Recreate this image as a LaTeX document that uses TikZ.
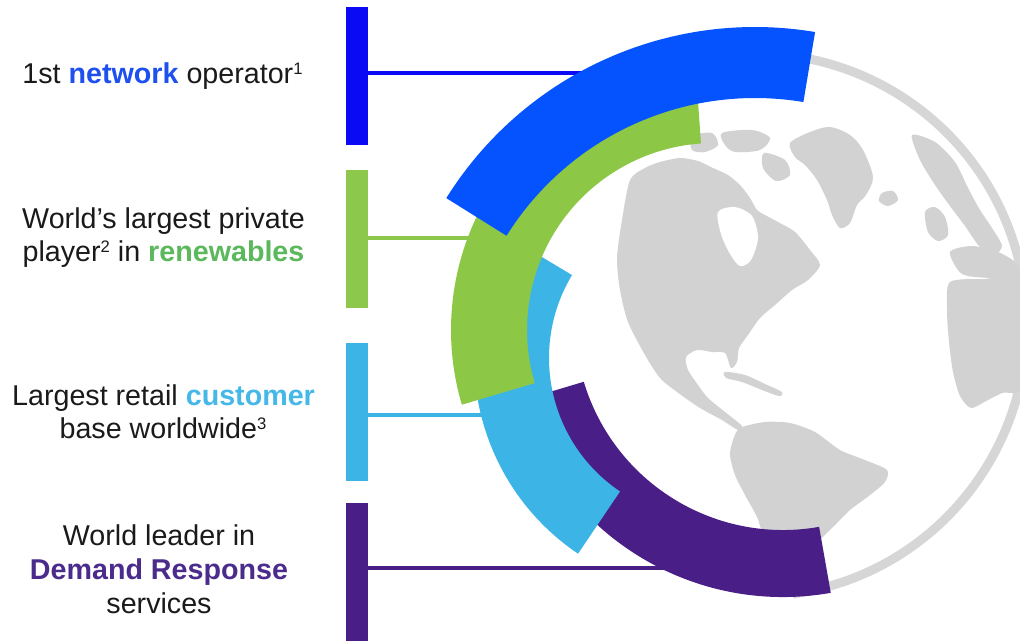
\documentclass[tikz,border=0pt]{standalone}
\usepackage{fontspec}
\setmainfont{Liberation Sans}
\usetikzlibrary{calc}
\definecolor{barblue}{HTML}{0A0AF5}
\definecolor{arcblue}{HTML}{0552FF}
\definecolor{txtblue}{HTML}{1E50F0}
\definecolor{bargreen}{HTML}{8CC84B}
\definecolor{arcgreen}{HTML}{8CC846}
\definecolor{txtgreen}{HTML}{5CB85C}
\definecolor{lblue}{HTML}{3CB4E6}
\definecolor{txtlblue}{HTML}{46B8E8}
\definecolor{purp}{HTML}{4A1E87}
\definecolor{txtpurp}{HTML}{4B2C8C}
\definecolor{land}{HTML}{D2D2D2}
\definecolor{ringgray}{HTML}{D6D6D6}
\definecolor{ink}{HTML}{1A1A1A}
\newcommand{\ArcBand}[7]{%
  \fill[#1] ([shift={(#6:#5)}]#2,-#3) arc[start angle=#6,end angle=#7,radius=#5]
    -- ([shift={(#7:#4)}]#2,-#3) arc[start angle=#7,end angle=#6,radius=#4] -- cycle;}
\newcommand{\SupNum}[1]{\raisebox{6.6pt}{\fontsize{12.5}{12.5}\selectfont #1}}
\begin{document}
\begin{tikzpicture}[x=0.75pt,y=0.75pt,
  txt/.style={anchor=base,inner sep=0pt,text=ink,font=\fontsize{21.5}{25}\selectfont},
  barbox/.style={rectangle,draw=none,inner sep=0pt,minimum width=16.5pt,minimum height=103.5pt},
  conn/.style={line width=2.6pt},
  landmass/.style={fill=land,draw=none}]
\useasboundingbox (0,0) rectangle (1020,-640);
\clip (0,0) rectangle (1020,-640);
\fill[white] (0,0) rectangle (1020,-640);

% ---- globe ----
\draw[ringgray,line width=6.75pt] (755,-325) ++(278:271.5) arc[start angle=278,end angle=452,radius=271.5];
% North America
\fill[landmass] plot[smooth cycle,tension=0.45] coordinates {
 (630,-180) (622,-220) (617,-258) (620,-290) (628,-322) (645,-355) (660,-378) (677,-392)
 (700,-408) (722,-420) (738,-430) (742,-426) (725,-412) (708,-398) (698,-385) (688,-370)
 (686,-357) (697,-350) (712,-352) (725,-353) (731,-368) (737,-362) (739,-348) (748,-335)
 (760,-318) (775,-305) (792,-290) (808,-280) (820,-265) (810,-250) (795,-232) (778,-222)
 (765,-215) (757,-210) (750,-198) (740,-185) (728,-175) (713,-168) (698,-161) (680,-158)
 (660,-162) (645,-168)};
% Hudson Bay
\fill[white] plot[smooth cycle,tension=0.5] coordinates {
 (718,-212) (735,-207) (752,-216) (758,-238) (751,-260) (740,-266) (730,-254) (721,-234)};
% Arctic islands
\fill[landmass] plot[smooth cycle,tension=0.5] coordinates {(692,-136) (712,-133) (718,-145) (705,-152) (692,-150)};
\fill[landmass] plot[smooth cycle,tension=0.5] coordinates {(722,-133) (752,-130) (770,-138) (760,-150) (735,-152) (725,-145)};
\fill[landmass] plot[smooth cycle,tension=0.5] coordinates {(764,-153) (785,-160) (790,-175) (776,-181) (763,-168)};
% Greenland
\fill[landmass] plot[smooth cycle,tension=0.5] coordinates {
 (790,-143) (810,-132) (830,-127) (850,-135) (863,-150) (873,-177) (866,-195) (857,-205)
 (850,-223) (840,-228) (832,-215) (827,-200) (817,-180) (805,-165) (795,-157)};
% Iceland
\fill[landmass] plot[smooth cycle,tension=0.5] coordinates {(882,-193) (893,-191) (898,-200) (888,-206) (879,-201)};
% Caribbean
\fill[landmass] plot[smooth cycle,tension=0.5] coordinates {(725,-372) (745,-375) (765,-384) (782,-392) (779,-396) (762,-390) (742,-382) (726,-378)};
% South America
\fill[landmass] plot[smooth cycle,tension=0.45] coordinates {
 (740,-428) (765,-422) (790,-423) (815,-432) (840,-450) (865,-460) (887,-470) (885,-482)
 (870,-495) (850,-510) (835,-525) (820,-540) (810,-555) (795,-575) (780,-562) (765,-540)
 (757,-517) (745,-495) (735,-475) (730,-455) (733,-440)};
% Scandinavia
\fill[landmass] plot[smooth cycle,tension=0.45] coordinates {
 (912,-135) (935,-142) (955,-162) (968,-188) (980,-210) (992,-228) (1002,-246) (993,-256)
 (979,-246) (965,-226) (950,-206) (935,-185) (920,-160)};
% Europe mainland
\fill[landmass] plot[smooth cycle,tension=0.45] coordinates {
 (950,-252) (972,-246) (998,-252) (1015,-262) (1022,-276) (992,-278) (962,-274)};
% Africa
\fill[landmass] plot[smooth cycle,tension=0.45] coordinates {
 (950,-282) (985,-279) (1025,-279) (1025,-384) (1002,-393) (986,-401) (971,-408)
 (960,-396) (953,-372) (949,-342) (947,-310)};
% UK
\fill[landmass] plot[smooth cycle,tension=0.5] coordinates {(925,-212) (935,-207) (945,-217) (948,-235) (938,-241) (928,-232)};

% ---- bars ----
\node[barbox,fill=barblue]  (b1) at (357,-76)  {};
\node[barbox,fill=bargreen] (b2) at (357,-239) {};
\node[barbox,fill=lblue]    (b3) at (357,-412) {};
\node[barbox,fill=purp]     (b4) at (356.5,-572) {};

% ---- connector ends (under the arcs) ----
\coordinate (e1) at (595,-73);
\coordinate (e2) at (485,-238);
\coordinate (e3) at (500,-415);
\coordinate (e4) at (672,-568);
\draw[conn,barblue] (b1.east |- e1) -- (e1);
\draw[conn,bargreen] (b2.east |- e2) -- (e2);
\draw[conn,lblue] (b3.east |- e3) -- (e3);
\draw[conn,purp] (b4.east |- e4) -- (e4);

% ---- arcs ----
\ArcBand{purp}{783}{322}{208}{275}{196.7}{280}
\ArcBand{lblue}{710}{358}{161}{236}{149}{236}
\ArcBand{arcgreen}{714}{330}{187}{263}{94}{196.5}
\ArcBand{arcblue}{755}{391}{293}{364}{80.5}{148}

% ---- texts ----
\node[txt] (t1) at (162.5,-83) {1st \textbf{\color{txtblue}network} operator\SupNum{1}};
\node[txt] (t2a) at (163.5,-228) {World’s largest private};
\node[txt] (t2b) at (163.5,-261) {player\SupNum{2} in \textbf{\color{txtgreen}renewables}};
\node[txt] (t3a) at (163.5,-405) {Largest retail \textbf{\color{txtlblue}customer}};
\node[txt] (t3b) at (163,-438) {base worldwide\SupNum{3}};
\node[txt] (t4a) at (159,-545) {World leader in};
\node[txt] (t4b) at (159,-579) {\textbf{\color{txtpurp}Demand Response}};
\node[txt] (t4c) at (159,-613) {services};
\end{tikzpicture}
\end{document}
